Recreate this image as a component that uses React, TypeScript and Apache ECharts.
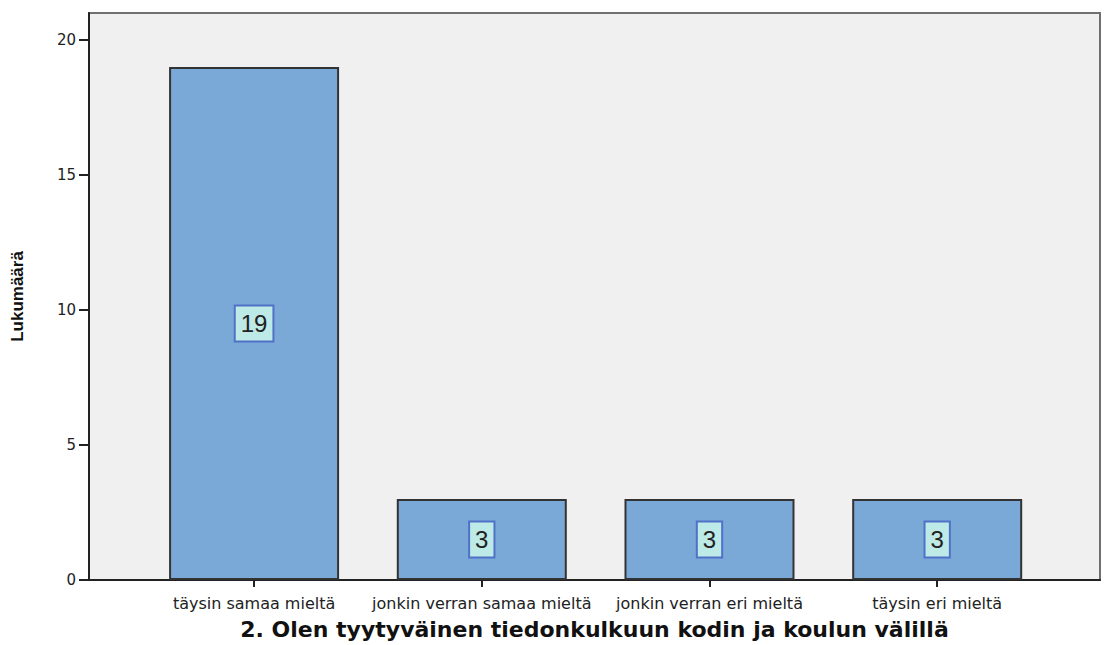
import React, { useEffect, useRef } from "react";
import * as echarts from "echarts";

const categories = [
  "täysin samaa mieltä",
  "jonkin verran samaa mieltä",
  "jonkin verran eri mieltä",
  "täysin eri mieltä",
];
const counts = [19, 3, 3, 3];
const yTicks = [0, 5, 10, 15, 20];
const xTitle = "2. Olen tyytyväinen tiedonkulkuun kodin ja koulun välillä";
const yTitle = "Lukumäärä";

export default function App() {
  const ref = useRef<HTMLDivElement>(null);
  useEffect(() => {
    if (!ref.current) return;
    const chart = echarts.init(ref.current, undefined, { renderer: "svg" });
    const idx = categories.map((_, i) => i);
    chart.setOption({
      animation: false,
      grid: {
        left: 89,
        top: 13,
        right: 5,
        bottom: 64,
        show: true,
        backgroundColor: "#f0f0f0",
        borderColor: "#707070",
        borderWidth: 2,
      },
      xAxis: {
        type: "value",
        min: -0.725,
        max: 3.715,
        splitLine: { show: false },
        axisLine: { show: true, onZero: false, lineStyle: { color: "#222", width: 2 } },
        axisTick: { show: true, customValues: idx, length: 7, lineStyle: { color: "#222", width: 2 } },
        axisLabel: {
          customValues: idx,
          formatter: (v: number) => categories[Math.round(v)] ?? "",
          margin: 15,
          fontFamily: "DejaVu Sans, Verdana, sans-serif",
          fontSize: 16,
          color: "#222",
        },
        name: xTitle,
        nameLocation: "middle",
        nameGap: 38,
        nameTextStyle: {
          fontFamily: "DejaVu Sans, Verdana, sans-serif",
          fontWeight: "bold",
          fontSize: 22,
          color: "#111",
        },
      },
      yAxis: {
        type: "value",
        min: 0,
        max: 21,
        interval: 5,
        splitLine: { show: false },
        axisLine: { show: true, onZero: false, lineStyle: { color: "#222", width: 2 } },
        axisTick: { show: true, customValues: yTicks, length: 10, lineStyle: { color: "#222", width: 2 } },
        axisLabel: {
          customValues: yTicks,
          margin: 13,
          fontFamily: "DejaVu Sans, Verdana, sans-serif",
          fontSize: 15,
          color: "#222",
        },
        name: yTitle,
        nameLocation: "middle",
        nameGap: 63,
        nameTextStyle: {
          fontFamily: "Liberation Sans, Arial, sans-serif",
          fontWeight: "bold",
          fontSize: 17,
          color: "#111",
        },
      },
      series: [
        {
          type: "bar",
          data: counts.map((c, i) => [i, c]),
          barWidth: 170,
          itemStyle: { color: "#7ba9d7", borderColor: "#333", borderWidth: 2 },
          label: {
            show: true,
            position: "inside",
            formatter: (p: any) => String(p.value[1]),
            fontFamily: "Liberation Sans, Arial, sans-serif",
            fontSize: 24,
            lineHeight: 24,
            color: "#222",
            backgroundColor: "#bde9e6",
            borderColor: "#4f72c8",
            borderWidth: 2,
            padding: [5, 5, 5, 5],
          },
        },
      ],
    });
    return () => chart.dispose();
  }, []);
  return (
    <div
      ref={ref}
      style={{ position: "fixed", left: 0, top: 0, width: 1105, height: 645, background: "#fff" }}
    />
  );
}
